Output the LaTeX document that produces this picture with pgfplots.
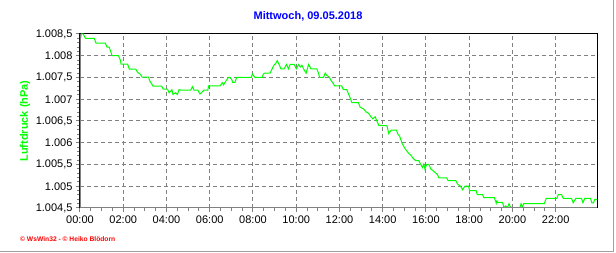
\documentclass[border=0pt]{standalone}
\usepackage{fontspec}
\setmainfont{Liberation Sans}
\usepackage{pgfplots}
\pgfplotsset{compat=1.18}
\definecolor{wsgreen}{RGB}{0,255,0}
\definecolor{wsblue}{RGB}{0,0,255}
\definecolor{wsred}{RGB}{255,0,0}
\definecolor{wsgray}{RGB}{128,128,128}
\definecolor{frame}{RGB}{160,160,160}
\begin{document}
\begin{tikzpicture}[x=1pt,y=1pt]
\path[use as bounding box] (0,0) rectangle (616,253);
\begin{axis}[
  at={(80pt,45pt)}, anchor=south west,
  scale only axis, width=517pt, height=174pt,
  xmin=0, xmax=23.91, ymin=1004.5, ymax=1008.5,
  xtick={0,2,4,6,8,10,12,14,16,18,20,22},
  xticklabels={00:00,02:00,04:00,06:00,08:00,10:00,12:00,14:00,16:00,18:00,20:00,22:00},
  minor x tick num=3,
  ytick={1004.5,1005,1005.5,1006,1006.5,1007,1007.5,1008,1008.5},
  minor y tick num=4,
  scaled y ticks=false,
  yticklabel style={/pgf/number format/.cd, use comma, 1000 sep={.}, assume math mode=true},
  ticklabel style={font=\fontsize{11}{13}\selectfont, black},
  xtick pos=bottom, ytick pos=left,
  tick align=outside,
  major tick length=4pt, minor tick length=3pt,
  every tick/.style={wsgray, line width=1pt},
  axis line style={black, line width=1pt},
  grid=major,
  major grid style={wsgray, line width=1pt, dash pattern=on 4pt off 3pt},
]
\addplot[wsgreen, line width=1pt] coordinates {
(0,1008.29) (0.06,1008.5) (0.15,1008.5) (0.2,1008.45) (0.25,1008.40) (0.66,1008.40)
(0.74,1008.29) (1.17,1008.29) (1.25,1008.2) (1.35,1008.2) (1.42,1008.1) (1.48,1008.0)
(1.78,1008.0) (1.86,1007.91) (1.90,1007.81) (2.2,1007.81) (2.28,1007.69) (2.58,1007.69)
(2.66,1007.62) (2.80,1007.57) (2.86,1007.51) (3.17,1007.51) (3.23,1007.42) (3.38,1007.30)
(3.78,1007.30) (3.85,1007.23) (4.05,1007.23) (4.12,1007.15) (4.20,1007.19) (4.25,1007.22)
(4.30,1007.11) (4.42,1007.15) (4.50,1007.11) (4.58,1007.22) (4.67,1007.21) (5.12,1007.21)
(5.20,1007.29) (5.27,1007.21) (5.45,1007.21) (5.55,1007.12) (5.64,1007.16) (5.73,1007.21)
(5.91,1007.21) (5.95,1007.31) (6.48,1007.31) (6.58,1007.38) (6.64,1007.33) (6.71,1007.39)
(6.79,1007.45) (6.86,1007.5) (6.94,1007.5) (7.02,1007.45) (7.06,1007.39) (7.17,1007.39)
(7.24,1007.5) (7.92,1007.5) (7.97,1007.58) (8.03,1007.54) (8.09,1007.5) (8.42,1007.5)
(8.48,1007.58) (8.53,1007.6) (8.79,1007.6) (8.88,1007.69) (8.95,1007.77) (9.06,1007.83)
(9.12,1007.89) (9.21,1007.8) (9.29,1007.7) (9.44,1007.7) (9.55,1007.8) (9.64,1007.7)
(9.72,1007.8) (9.91,1007.8) (10.0,1007.7) (10.11,1007.8) (10.18,1007.74) (10.26,1007.78)
(10.37,1007.67) (10.46,1007.6) (10.57,1007.8) (10.68,1007.7) (10.95,1007.7) (11.03,1007.6)
(11.08,1007.5) (11.26,1007.5) (11.34,1007.6) (11.42,1007.55) (11.54,1007.5) (11.60,1007.44)
(11.72,1007.36) (11.77,1007.31) (12.1,1007.31) (12.18,1007.22) (12.34,1007.22) (12.42,1007.12)
(12.52,1007.0) (12.57,1006.92) (12.88,1006.92) (12.95,1006.82) (13.11,1006.78) (13.23,1006.71)
(13.34,1006.68) (13.45,1006.6) (13.54,1006.55) (13.65,1006.6) (13.72,1006.51) (13.82,1006.40)
(14.2,1006.39) (14.28,1006.21) (14.39,1006.29) (14.64,1006.29) (14.7,1006.2) (14.79,1006.14)
(14.9,1005.98) (15.05,1005.85) (15.21,1005.75) (15.29,1005.72) (15.41,1005.64) (15.52,1005.59)
(15.67,1005.59) (15.75,1005.51) (15.84,1005.43) (15.9,1005.51) (15.95,1005.4) (16.03,1005.5)
(16.14,1005.5) (16.22,1005.4) (16.37,1005.34) (16.53,1005.27) (16.6,1005.19) (16.96,1005.19)
(17.02,1005.13) (17.38,1005.13) (17.46,1005.05) (17.6,1005.0) (17.69,1004.92) (17.8,1005.0)
(17.97,1005.0) (18.02,1004.9) (18.32,1004.9) (18.37,1004.81) (18.62,1004.81) (18.67,1004.74)
(19.16,1004.74) (19.22,1004.66) (19.25,1004.61) (19.28,1004.66) (19.31,1004.63) (19.54,1004.63)
(19.61,1004.5) (19.69,1004.55) (19.76,1004.5) (19.84,1004.6) (19.92,1004.5) (20.34,1004.5)
(20.40,1004.6) (20.46,1004.52) (20.52,1004.6) (21.47,1004.6) (21.56,1004.72) (22.05,1004.72)
(22.12,1004.81) (22.27,1004.81) (22.35,1004.72) (22.73,1004.72) (22.81,1004.62) (22.93,1004.72)
(23.19,1004.72) (23.26,1004.62) (23.34,1004.72) (23.61,1004.72) (23.67,1004.62) (23.75,1004.62)
(23.81,1004.7) (23.91,1004.7)
};
\draw[wsgray, line width=2.5pt] (rel axis cs:0,0) -- (rel axis cs:0,1);
\draw[wsgray, line width=2.5pt] (rel axis cs:0,0) -- (rel axis cs:1,0);
\end{axis}
\node[font=\fontsize{11}{13}\selectfont\bfseries, text=wsblue] at (308,237) {Mittwoch, 09.05.2018};
\node[font=\fontsize{11}{13}\selectfont\bfseries, text=wsgreen, rotate=90] at (25,132) {Luftdruck (hPa)};
\node[font=\fontsize{6.7}{8}\selectfont\bfseries, text=wsred, anchor=west, inner sep=0pt] at (20,14) {© WsWin32 - © Heiko Blödorn};
\draw[frame, line width=1.5pt] (0,1.5) -- (613.5,1.5) -- (613.5,253);
\end{tikzpicture}
\end{document}
